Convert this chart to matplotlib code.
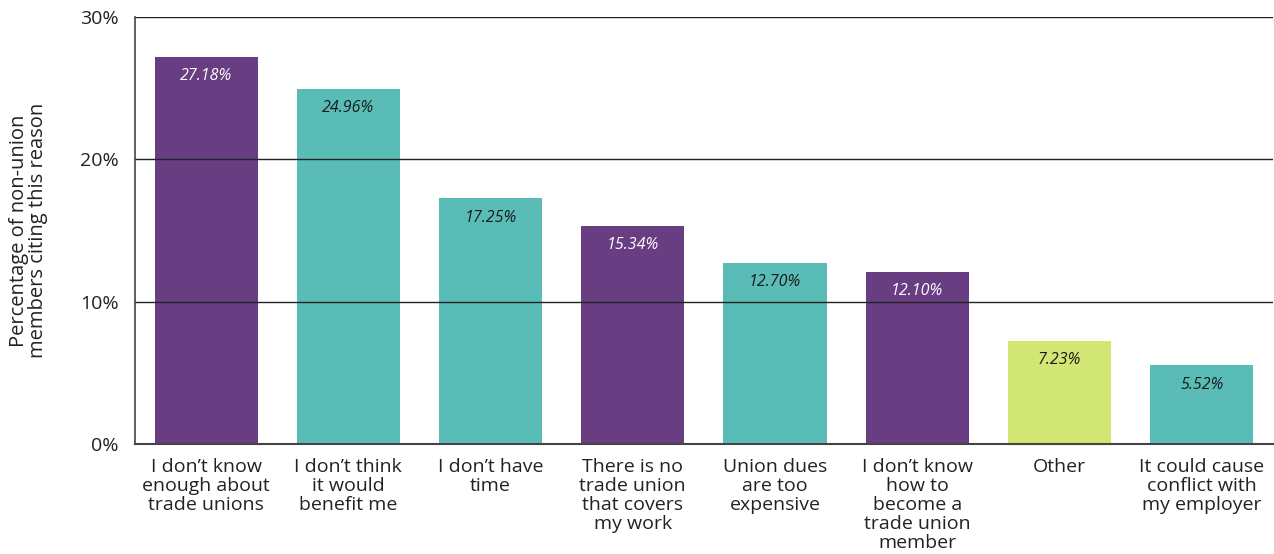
import matplotlib
matplotlib.use("Agg")
import matplotlib.pyplot as plt

reasons = [
    "I don\u2019t know\nenough about\ntrade unions",
    "I don\u2019t think\nit would\nbenefit me",
    "I don\u2019t have\ntime",
    "There is no\ntrade union\nthat covers\nmy work",
    "Union dues\nare too\nexpensive",
    "I don\u2019t know\nhow to\nbecome a\ntrade union\nmember",
    "Other",
    "It could cause\nconflict with\nmy employer",
]
shares = [27.18, 24.96, 17.25, 15.34, 12.70, 12.10, 7.23, 5.52]
bar_colors = ["#693d82", "#5abcb7", "#5abcb7", "#693d82",
              "#5abcb7", "#693d82", "#d1e673", "#5abcb7"]
label_colors = ["white", "#1a1a1a", "#1a1a1a", "white",
                "#1a1a1a", "white", "#1a1a1a", "#1a1a1a"]
y_ticks = [0, 10, 20, 30]
y_tick_labels = ["0%", "10%", "20%", "30%"]

plt.rcParams["font.family"] = ["Open Sans", "DejaVu Sans"]

fig = plt.figure(figsize=(12.74, 5.54), dpi=100)
ax = fig.add_axes([0.106, 0.1986, 0.893, 0.7707])

x = range(len(shares))
bars = ax.bar(x, shares, width=0.725, color=bar_colors, zorder=1)

for rect, val, tc in zip(bars, shares, label_colors):
    ax.text(rect.get_x() + rect.get_width() / 2, val - 1.35, f"{val:.2f}%",
            ha="center", va="center", fontsize=11.5, style="italic",
            color=tc, zorder=3)

ax.set_xlim(-0.5, len(shares) - 0.5)
ax.set_ylim(0, 30)
ax.set_yticks(y_ticks)
ax.set_yticklabels(y_tick_labels, fontsize=14, color="#222222")
ax.set_xticks(list(x))
ax.set_xticklabels(reasons, fontsize=14, color="#222222", linespacing=1.08)
ax.tick_params(axis="y", length=0, pad=12)
ax.tick_params(axis="x", length=0, pad=10)

for yv in y_ticks[1:]:
    ax.axhline(yv, color="#222222", linewidth=1.0, zorder=2)

for side in ["top", "right"]:
    ax.spines[side].set_visible(False)
ax.spines["left"].set_color("#444444")
ax.spines["bottom"].set_color("#444444")
ax.spines["left"].set_linewidth(1.2)
ax.spines["bottom"].set_linewidth(1.5)

ax.set_ylabel("Percentage of non-union\nmembers citing this reason",
              fontsize=14.5, color="#222222", linespacing=0.92)
ax.yaxis.set_label_coords(-0.0765, 0.5)

fig.savefig("out.png", dpi=100)
